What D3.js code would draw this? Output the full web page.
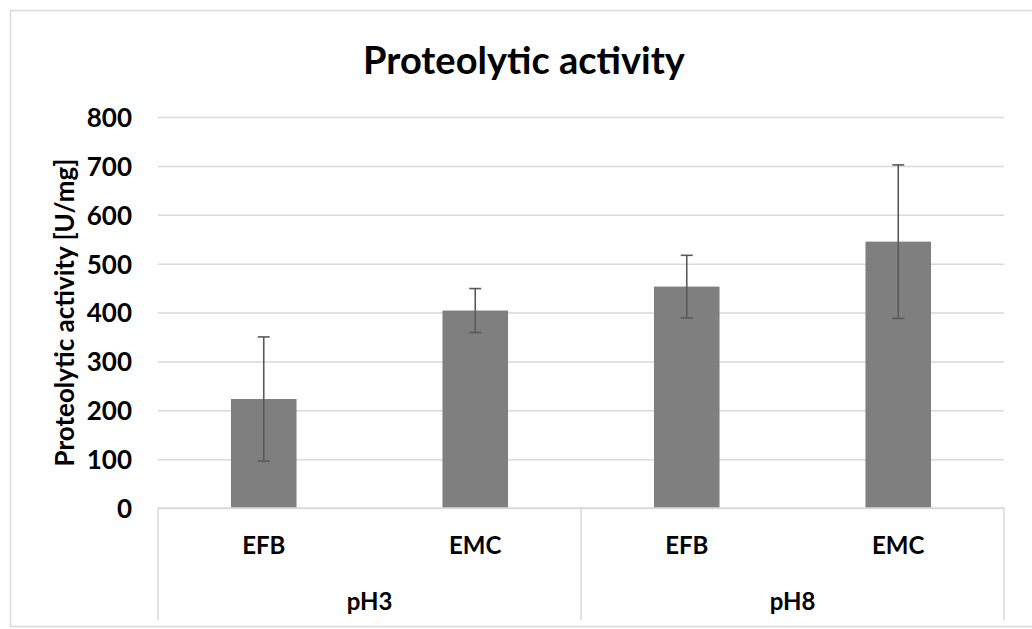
<!DOCTYPE html>
<html>
<head>
<meta charset="utf-8">
<script src="https://cdn.jsdelivr.net/npm/d3@7"></script>
<style>
  body { margin: 0; background: #fff; }
  text { font-family: Lato, "Open Sans", sans-serif; font-weight: bold; fill: #000; }
</style>
</head>
<body>
<div id="chart"></div>
<script>
// data
const groups = ['pH3', 'pH8'];
const categories = ['EFB', 'EMC', 'EFB', 'EMC'];
const categoryGroup = ['pH3', 'pH3', 'pH8', 'pH8'];
const values = [223, 404, 453, 545];
const errors = [127, 45, 64, 157];
const yTicks = [0, 100, 200, 300, 400, 500, 600, 700, 800];

const W = 1032, H = 629;
const margin = { top: 117, right: 28, bottom: 121, left: 158 };
const width = W - margin.left - margin.right;
const height = H - margin.top - margin.bottom;

const svg = d3.select('#chart')
    .append('svg')
    .attr('width', W)
    .attr('height', H);

// outer chart border (right side runs off the picture)
svg.append('rect')
    .attr('x', 10.5)
    .attr('y', 10.5)
    .attr('width', W + 20)
    .attr('height', 616)
    .attr('fill', 'none')
    .attr('stroke', '#d9d9d9')
    .attr('stroke-width', 1.5);

const g = svg.append('g')
    .attr('transform', `translate(${margin.left},${margin.top})`);

const idx = categories.map((d, i) => i);

const x = d3.scaleBand()
    .domain(idx)
    .range([0, width])
    .paddingInner(0.69)
    .paddingOuter(0.345);

const y = d3.scaleLinear()
    .domain([0, 800])
    .range([height, 0]);

// grid lines
g.append('g')
    .call(d3.axisLeft(y).tickValues(yTicks).tickSize(-width).tickFormat(''))
    .call(s => s.select('.domain').remove())
    .selectAll('line')
    .attr('stroke', '#d9d9d9')
    .attr('stroke-width', 1.5);

// y tick labels
g.append('g')
    .call(d3.axisLeft(y).tickValues(yTicks).tickSize(0).tickPadding(26))
    .call(s => s.select('.domain').remove())
    .selectAll('text')
    .style('font-size', '26px')
    .attr('dy', '0.36em');

// bars
g.selectAll('.bar')
    .data(values)
    .enter().append('rect')
    .attr('class', 'bar')
    .attr('x', (d, i) => x(i))
    .attr('y', d => y(d))
    .attr('width', x.bandwidth())
    .attr('height', d => y(0) - y(d))
    .attr('fill', '#7f7f7f');

// error bars
const eb = g.selectAll('.err')
    .data(values)
    .enter().append('g')
    .attr('class', 'err')
    .attr('stroke', '#595959')
    .attr('stroke-width', 1.6);

const cx = i => x(i) + x.bandwidth() / 2;

eb.append('line')
    .attr('x1', (d, i) => cx(i)).attr('x2', (d, i) => cx(i))
    .attr('y1', (d, i) => y(d + errors[i]))
    .attr('y2', (d, i) => y(d - errors[i]));
eb.append('line')
    .attr('x1', (d, i) => cx(i) - 6).attr('x2', (d, i) => cx(i) + 6)
    .attr('y1', (d, i) => y(d + errors[i]))
    .attr('y2', (d, i) => y(d + errors[i]));
eb.append('line')
    .attr('x1', (d, i) => cx(i) - 6).attr('x2', (d, i) => cx(i) + 6)
    .attr('y1', (d, i) => y(d - errors[i]))
    .attr('y2', (d, i) => y(d - errors[i]));

// category axis (two levels)
const groupX = d3.scaleBand()
    .domain(groups)
    .range([0, width]);

const axisG = g.append('g')
    .attr('transform', `translate(0,${height})`);

axisG.append('line')
    .attr('x1', 0).attr('x2', width)
    .attr('y1', 0).attr('y2', 0)
    .attr('stroke', '#d9d9d9')
    .attr('stroke-width', 1.5);

const seps = groups.map(gr => groupX(gr)).concat([width]);
axisG.selectAll('.sep')
    .data(seps)
    .enter().append('line')
    .attr('class', 'sep')
    .attr('x1', d => d).attr('x2', d => d)
    .attr('y1', 0).attr('y2', 112)
    .attr('stroke', '#d9d9d9')
    .attr('stroke-width', 1.5);

axisG.selectAll('.cat')
    .data(categories)
    .enter().append('text')
    .attr('class', 'cat')
    .attr('x', (d, i) => cx(i))
    .attr('y', 46)
    .attr('text-anchor', 'middle')
    .style('font-size', '24px')
    .text(d => d);

axisG.selectAll('.grp')
    .data(groups)
    .enter().append('text')
    .attr('class', 'grp')
    .attr('x', d => groupX(d) + groupX.bandwidth() / 2)
    .attr('y', 102)
    .attr('text-anchor', 'middle')
    .style('font-size', '24px')
    .text(d => d);

// title
svg.append('text')
    .attr('x', 524)
    .attr('y', 74)
    .attr('text-anchor', 'middle')
    .style('font-size', '38px')
    .text('Proteolytic activity');

// y axis label
svg.append('text')
    .attr('transform', `translate(74, ${margin.top + height / 2}) rotate(-90)`)
    .attr('text-anchor', 'middle')
    .style('font-size', '26px')
    .text('Proteolytic activity [U/mg]');
</script>
</body>
</html>
